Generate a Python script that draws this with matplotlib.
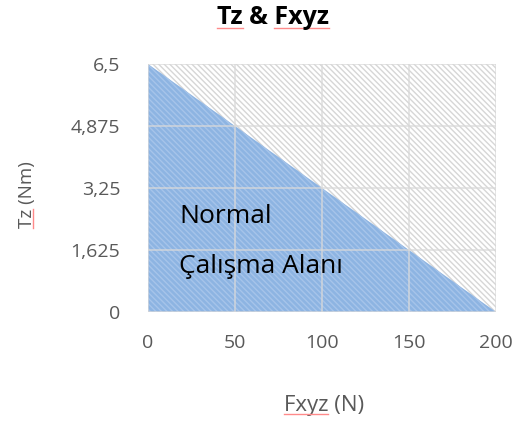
import matplotlib
matplotlib.use("Agg")
import matplotlib.pyplot as plt
from matplotlib.lines import Line2D

plt.rcParams["font.family"] = ["Open Sans", "DejaVu Sans"]
plt.rcParams["hatch.linewidth"] = 1.0

# data: working envelope (Fxyz in N, Tz in Nm)
fxyz = [0, 200]
tz = [6.5, 0]
x_ticks = [0, 50, 100, 150, 200]
y_ticks = [0, 1.625, 3.25, 4.875, 6.5]
y_ticklabels = ["0", "1,625", "3,25", "4,875", "6,5"]
x_ticklabels = ["0", "50", "100", "150", "200"]

GREY = "#595959"
W, H = 523, 432

fig = plt.figure(figsize=(W / 100, H / 100), dpi=100)
ax = fig.add_axes([148 / W, 1 - 312 / H, 348 / W, 248 / H])

# hatched background over the whole plot area
ax.fill_between([x_ticks[0], x_ticks[-1]], y_ticks[0], y_ticks[-1],
                facecolor="white", edgecolor="#d6d6d6", hatch="\\\\\\\\\\\\", lw=0, zorder=1)
# normal working area (triangle)
ax.fill_between(fxyz, 0, tz, facecolor="#8db4e2", edgecolor="#a6c4ea",
                hatch="\\\\\\\\\\\\", lw=0, zorder=2)

for x in x_ticks:
    ax.axvline(x, color="#d9d9d9", lw=1.2, zorder=3, alpha=0.8)
for y in y_ticks:
    ax.axhline(y, color="#d9d9d9", lw=1.2, zorder=3, alpha=0.8)

ax.set_xlim(x_ticks[0], x_ticks[-1])
ax.set_ylim(y_ticks[0], y_ticks[-1])
ax.set_xticks(x_ticks)
ax.set_xticklabels(x_ticklabels)
ax.set_yticks(y_ticks)
ax.set_yticklabels(y_ticklabels)
ax.tick_params(length=0, labelsize=14, colors=GREY)
ax.tick_params(axis="y", pad=20)
ax.tick_params(axis="x", pad=16)
for s in ax.spines.values():
    s.set_visible(False)

ax.text(18.0, 2.33, "Normal", fontsize=19, color="black", va="baseline", zorder=4)
ax.text(18.0, 1.02, "Çalışma Alanı", fontsize=19, color="black", va="baseline", zorder=4)

xl = ax.set_xlabel("Fxyz (N)", fontsize=16, color=GREY, va="center")
ax.xaxis.set_label_coords((324 - 148) / 348, (312 - 406) / 248)
yl = ax.set_ylabel("Tz (Nm)", fontsize=13.5, color=GREY, va="center")
ax.yaxis.set_label_coords((27 - 148) / 348, (312 - 195) / 248)
title = fig.text(273 / W, 1 - 18 / H, "Tz & Fxyz", fontsize=18, fontweight="bold",
                 ha="center", va="center")

# spell-check underlines as in the screenshot
fig.canvas.draw()
r = fig.canvas.get_renderer()
PINK = "#ff8a8a"


def _w(txt, artist):
    return r.get_text_width_height_descent(txt, artist.get_fontproperties(), ismath=False)[0]


def _hline(x0, x1, y):
    fig.add_artist(Line2D([x0 / W, x1 / W], [y / H, y / H], color=PINK, lw=1,
                          transform=fig.transFigure))


bb = title.get_window_extent(r)
_hline(bb.x0, bb.x0 + _w("Tz", title), bb.y0 + 3)
_hline(bb.x1 - _w("Fxyz", title), bb.x1, bb.y0 + 3)
bb = xl.get_window_extent(r)
_hline(bb.x0, bb.x0 + _w("Fxyz", xl), bb.y0 + 3)
bb = yl.get_window_extent(r)
fig.add_artist(Line2D([(bb.x1 - 3) / W] * 2, [bb.y0 / H, (bb.y0 + _w("Tz", yl)) / H],
                      color=PINK, lw=1, transform=fig.transFigure))

fig.savefig("out.png", dpi=100)
